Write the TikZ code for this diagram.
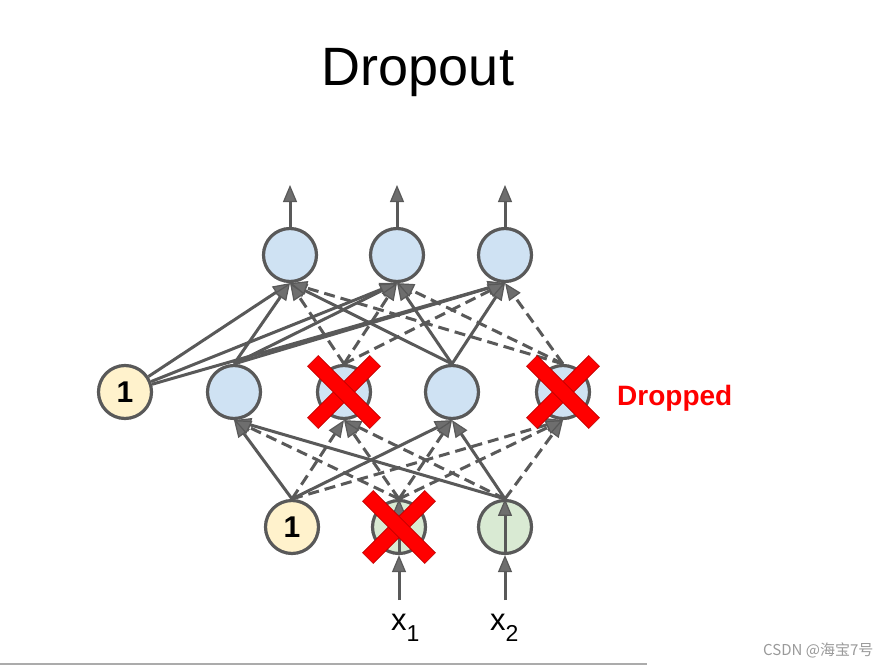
\documentclass[tikz,border=0pt]{standalone}
\usepackage{fontspec}
\setmainfont{Liberation Sans}
\newfontfamily\cjk{Noto Sans CJK SC}
\usetikzlibrary{arrows.meta}
\definecolor{lg}{HTML}{595959}
\definecolor{tipF}{HTML}{6E6E6E}
\definecolor{blueF}{HTML}{CFE2F3}
\definecolor{yelF}{HTML}{FFF2CC}
\definecolor{grnF}{HTML}{D9EAD3}
\definecolor{xred}{HTML}{FF0000}
\definecolor{xedge}{HTML}{C00000}
\definecolor{wm}{HTML}{9A9A9A}
\definecolor{rule}{HTML}{ABABAB}
\begin{document}
\begin{tikzpicture}[x=1pt,y=-1pt,
  neuron/.style={circle,draw=lg,line width=3.2pt,minimum size=53pt,inner sep=0pt},
  hid/.style={neuron,fill=blueF},
  bias/.style={neuron,fill=yelF,font=\fontsize{30}{30}\selectfont\bfseries},
  inp/.style={neuron,fill=grnF},
  conn/.style={draw=lg,line width=3pt,-{Triangle[length=17pt,width=14pt,fill=tipF,line width=1.2pt]}},
  dconn/.style={conn,dash pattern=on 11pt off 6pt},
  xbar/.style={rectangle,fill=xred,draw=xedge,line width=0.6pt,minimum width=88pt,minimum height=15pt,inner sep=0pt},
  lbl/.style={inner sep=0pt,anchor=base west}
]
\useasboundingbox (0,0) rectangle (896,666);
\fill[white] (0,0) rectangle (896,666);

% title
\node[font=\fontsize{54}{54}\selectfont,anchor=base,inner sep=0pt] (title) at (418,86) {Dropout};

% output layer
\node[hid] (O1) at (290,255) {};
\node[hid] (O2) at (397,255) {};
\node[hid] (O3) at (505,255) {};

% hidden layer
\node[bias] (H0) at (125,392) {1};
\node[hid] (H1) at (234,392) {};
\node[hid] (H2) at (344,392) {};
\node[hid] (H3) at (452,392) {};
\node[hid] (H4) at (563,392) {};

% input layer
\node[bias] (B) at (292,527) {1};
\node[inp] (I1) at (399,527) {};
\node[inp] (I2) at (505,527) {};

% output arrows
\coordinate (e1) at (290,185);
\coordinate (e2) at (397,185);
\coordinate (e3) at (505,185);
\draw[conn] (O1.north) -- (e1);
\draw[conn] (O2.north) -- (e2);
\draw[conn] (O3.north) -- (e3);

% hidden -> output
\foreach \t in {O1,O2,O3}{
  \draw[conn] (H0) -- (\t.south);
  \draw[conn] (H1.north) -- (\t.south);
  \draw[conn] (H3.north) -- (\t.south);
  \draw[dconn] (H2.north) -- (\t.south);
  \draw[dconn] (H4.north) -- (\t.south);
}

% input -> hidden
\foreach \t in {H1,H3}{
  \draw[conn] (B.north) -- (\t.south);
  \draw[conn] (I2.north) -- (\t.south);
  \draw[dconn] (I1.north) -- (\t.south);
}
\foreach \t in {H2,H4}{
  \draw[dconn] (B.north) -- (\t.south);
  \draw[dconn] (I2.north) -- (\t.south);
  \draw[dconn] (I1.north) -- (\t.south);
}

% input arrows
\coordinate (s1) at (399,600);
\coordinate (s2) at (505,600);
\draw[conn] (s1) -- (I1.south);
\draw[conn] (s2) -- (I2.south);
\draw[conn] (I1.south) -- (I1.north);
\draw[conn] (I2.south) -- (I2.north);

% input labels
\node[lbl] (x1) at (391,630) {\fontsize{31}{31}\selectfont x\raisebox{-11pt}{\fontsize{23}{23}\selectfont 1}};
\node[lbl] (x2) at (490,630) {\fontsize{31}{31}\selectfont x\raisebox{-11pt}{\fontsize{23}{23}\selectfont 2}};

% dropout crosses
\foreach \n in {H2,H4,I1}{
  \node[xbar,rotate=45] at (\n.center) {};
  \node[xbar,rotate=-45] at (\n.center) {};
}

% dropped label
\node[lbl,text=xred,font=\fontsize{28}{28}\selectfont\bfseries] (dropped) at (617,405) {Dropped};

% bottom rule and watermark
\draw[rule,line width=2pt] (0,664) -- (647,664);
\node[lbl,text=wm,font=\cjk\fontsize{15}{15}\selectfont] (wmark) at (763,655) {CSDN @海宝7号};
\end{tikzpicture}
\end{document}
